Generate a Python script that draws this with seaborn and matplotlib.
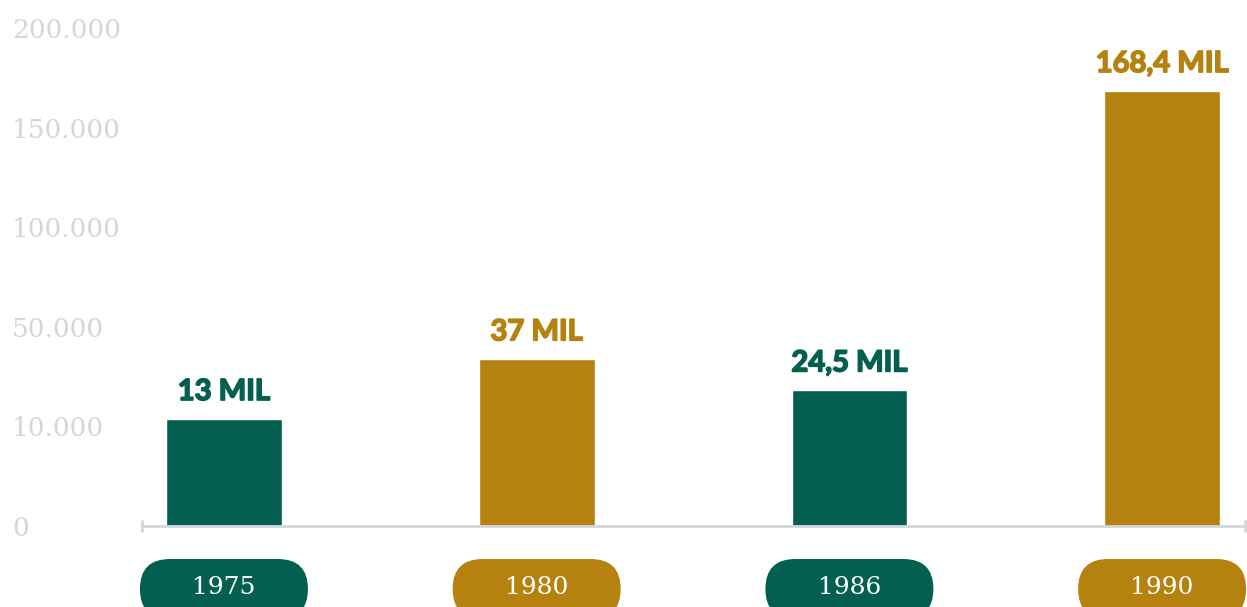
import numpy as np
import pandas as pd
import seaborn as sns
import matplotlib.pyplot as plt
import matplotlib.patheffects as pe
from matplotlib.patches import FancyBboxPatch
from matplotlib.transforms import IdentityTransform

years = ["1975", "1980", "1986", "1990"]
values = [13000, 37000, 24500, 168400]
value_labels = ["13 MIL", "37 MIL", "24,5 MIL", "168,4 MIL"]
tick_values = [0, 10000, 50000, 100000, 150000, 200000]
tick_labels = ["0", "10.000", "50.000", "100.000", "150.000", "200.000"]

green = "#045F51"
gold = "#B5820F"
grey = "#D3D6DA"
colors = [green, gold, green, gold]

df = pd.DataFrame({"year": years, "value": values})

sns.set_theme(style="white")

fig = plt.figure(figsize=(12.47, 6.07), dpi=100)
W, H = 1247, 607
ax = fig.add_axes([142 / W, (H - 526) / H, (1245 - 142) / W, (526 - 28) / H])

# uneven y axis: the ticks are equally spaced, values interpolated between them
steps = np.arange(len(tick_values))
ax.set_yscale("function", functions=(lambda v: np.interp(v, tick_values, steps),
                                     lambda s: np.interp(s, steps, tick_values)))

sns.barplot(data=df, x="year", y="value", hue="year", palette=colors,
            width=0.37, saturation=1, legend=False, ax=ax)

ax.set_ylim(0, 200000)
ax.set_xlim(-0.262, 3.265)
ax.set_yticks(tick_values)
ax.set_yticklabels(tick_labels)
ax.set_xticks([-0.262, 3.265])
ax.set_xticklabels([])
ax.set_xlabel("")
ax.set_ylabel("")

for s in ["top", "right", "left"]:
    ax.spines[s].set_visible(False)
ax.spines["bottom"].set_color(grey)
ax.spines["bottom"].set_linewidth(2)
ax.tick_params(axis="x", direction="inout", length=9, width=2, color=grey, bottom=True)
ax.tick_params(axis="y", length=0, pad=93.6, labelcolor=grey, labelsize=19)
for lab in ax.get_yticklabels():
    lab.set_horizontalalignment("left")
    lab.set_family("DejaVu Serif")

for i, (v, lab) in enumerate(zip(values, value_labels)):
    ax.annotate(lab, xy=(i, v), xytext=(0, 10), textcoords="offset points",
                ha="center", va="bottom", fontsize=21, fontweight="bold",
                family="Lato", color=colors[i], annotation_clip=False,
                path_effects=[pe.withStroke(linewidth=1.2, foreground=colors[i])])

# year pills under the axis
fig.canvas.draw()
for i, yr in enumerate(years):
    cx = ax.transData.transform((i, 0))[0]
    pill = FancyBboxPatch((cx - 84, -12), 168, 60,
                          boxstyle="round,pad=0,rounding_size=30",
                          fc=colors[i], ec="none", transform=IdentityTransform())
    fig.add_artist(pill)
    fig.text(cx / W, 19 / H, yr, ha="center", va="center", color="white",
             fontsize=18, family="DejaVu Serif")

fig.savefig("out.png", dpi=100)
